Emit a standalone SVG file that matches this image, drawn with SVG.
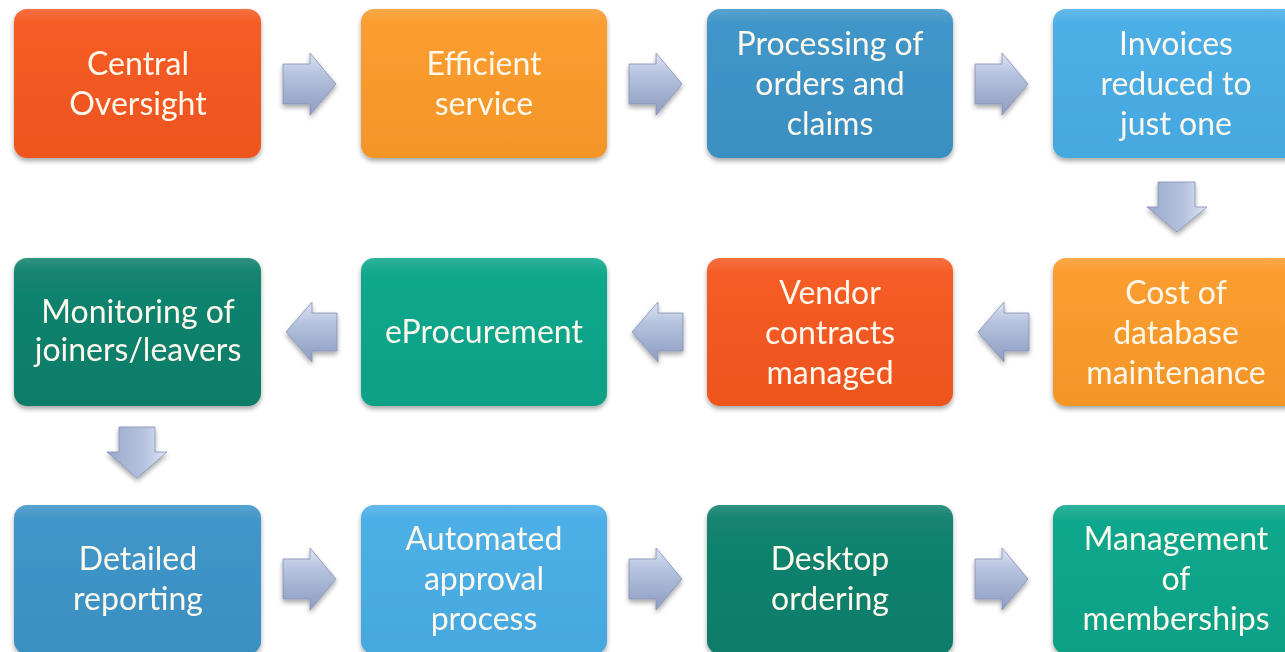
<svg xmlns="http://www.w3.org/2000/svg" width="1285" height="652" viewBox="0 0 1285 652">
<defs>
<filter id="sh" x="-10%" y="-10%" width="120%" height="130%">
<feGaussianBlur in="SourceAlpha" stdDeviation="2.5"/>
<feOffset dx="0" dy="3" result="b"/>
<feComponentTransfer><feFuncA type="linear" slope="0.35"/></feComponentTransfer>
<feMerge><feMergeNode/><feMergeNode in="SourceGraphic"/></feMerge>
</filter>
<linearGradient id="gloss" x1="0" y1="0" x2="0" y2="1">
<stop offset="0" stop-color="#fff" stop-opacity="0.15"/>
<stop offset="0.1" stop-color="#fff" stop-opacity="0.03"/>
<stop offset="1" stop-color="#000" stop-opacity="0.03"/>
</linearGradient>
<linearGradient id="arH" x1="0" y1="0" x2="0" y2="1">
<stop offset="0" stop-color="#DDE4F2"/>
<stop offset="0.35" stop-color="#B5C2DE"/>
<stop offset="1" stop-color="#8D9DC2"/>
</linearGradient>
<linearGradient id="arV" x1="0" y1="0" x2="1" y2="0">
<stop offset="0" stop-color="#9AA9CB"/>
<stop offset="0.6" stop-color="#B5C2DE"/>
<stop offset="1" stop-color="#DDE4F2"/>
</linearGradient>
<style>
.box{filter:url(#sh)}
.lbl{font-family:Lato,"Open Sans","Liberation Sans",sans-serif;font-size:32px;fill:#FFF8EC;text-anchor:middle}
.red{fill:#F5571F}.org{fill:#FB9A29}.blu{fill:#3B93C7}.lbl2{fill:#47ADE6}.dtl{fill:#0B806B}.tel{fill:#0AA58A}
.arr{stroke:#8391B5;stroke-width:0.8;filter:url(#sh)}
</style>
</defs>
<rect width="1285" height="652" fill="#fff"/>
<g id="connectors">
<path class="arr" fill="url(#arH)" d="M283,64 H310 V53 L336,84 L310,115 V104 H283 Z"/>
<path class="arr" fill="url(#arH)" d="M629,64 H656 V53 L682,84 L656,115 V104 H629 Z"/>
<path class="arr" fill="url(#arH)" d="M975,64 H1002 V53 L1028,84 L1002,115 V104 H975 Z"/>
<path class="arr" fill="url(#arV)" d="M1158,182 H1195 V207 H1207 L1177,232 L1147,207 H1158 Z"/>
<path class="arr" fill="url(#arH)" d="M1029,313 H1004 V302 L978,332 L1004,362 V351 H1029 Z"/>
<path class="arr" fill="url(#arH)" d="M683,313 H658 V302 L632,332 L658,362 V351 H683 Z"/>
<path class="arr" fill="url(#arH)" d="M337,313 H312 V302 L286,332 L312,362 V351 H337 Z"/>
<path class="arr" fill="url(#arV)" d="M119,427 H155 V452 H167 L137,478 L107,452 H119 Z"/>
<path class="arr" fill="url(#arH)" d="M283,559 H310 V548 L336,579 L310,610 V599 H283 Z"/>
<path class="arr" fill="url(#arH)" d="M629,559 H656 V548 L682,579 L656,610 V599 H629 Z"/>
<path class="arr" fill="url(#arH)" d="M975,559 H1002 V548 L1028,579 L1002,610 V599 H975 Z"/>
</g>
<g id="n1" class="box"><rect class="red" x="14" y="9" width="247" height="149" rx="13"/><rect fill="url(#gloss)" x="14" y="9" width="247" height="149" rx="13"/><text class="lbl" x="138" y="75">Central</text><text class="lbl" x="138" y="115">Oversight</text></g>
<g id="n2" class="box"><rect class="org" x="361" y="9" width="246" height="149" rx="13"/><rect fill="url(#gloss)" x="361" y="9" width="246" height="149" rx="13"/><text class="lbl" x="484" y="75">Efficient</text><text class="lbl" x="484" y="115">service</text></g>
<g id="n3" class="box"><rect class="blu" x="707" y="9" width="246" height="149" rx="13"/><rect fill="url(#gloss)" x="707" y="9" width="246" height="149" rx="13"/><text class="lbl" x="830" y="55">Processing of</text><text class="lbl" x="830" y="95">orders and</text><text class="lbl" x="830" y="135">claims</text></g>
<g id="n4" class="box"><rect class="lbl2" x="1053" y="9" width="247" height="149" rx="13"/><rect fill="url(#gloss)" x="1053" y="9" width="247" height="149" rx="13"/><text class="lbl" x="1176" y="55">Invoices</text><text class="lbl" x="1176" y="95">reduced to</text><text class="lbl" x="1176" y="135">just one</text></g>
<g id="n5" class="box"><rect class="org" x="1053" y="258" width="247" height="148" rx="13"/><rect fill="url(#gloss)" x="1053" y="258" width="247" height="148" rx="13"/><text class="lbl" x="1176" y="304">Cost of</text><text class="lbl" x="1176" y="344">database</text><text class="lbl" x="1176" y="384">maintenance</text></g>
<g id="n6" class="box"><rect class="red" x="707" y="258" width="246" height="148" rx="13"/><rect fill="url(#gloss)" x="707" y="258" width="246" height="148" rx="13"/><text class="lbl" x="830" y="304">Vendor</text><text class="lbl" x="830" y="344">contracts</text><text class="lbl" x="830" y="384">managed</text></g>
<g id="n7" class="box"><rect class="tel" x="361" y="258" width="246" height="148" rx="13"/><rect fill="url(#gloss)" x="361" y="258" width="246" height="148" rx="13"/><text class="lbl" x="484" y="343">eProcurement</text></g>
<g id="n8" class="box"><rect class="dtl" x="14" y="258" width="247" height="148" rx="13"/><rect fill="url(#gloss)" x="14" y="258" width="247" height="148" rx="13"/><text class="lbl" x="138" y="323">Monitoring of</text><text class="lbl" x="138" y="361">joiners/leavers</text></g>
<g id="n9" class="box"><rect class="blu" x="14" y="505" width="247" height="149" rx="13"/><rect fill="url(#gloss)" x="14" y="505" width="247" height="149" rx="13"/><text class="lbl" x="138" y="570">Detailed</text><text class="lbl" x="138" y="610">reporting</text></g>
<g id="n10" class="box"><rect class="lbl2" x="361" y="505" width="246" height="149" rx="13"/><rect fill="url(#gloss)" x="361" y="505" width="246" height="149" rx="13"/><text class="lbl" x="484" y="550">Automated</text><text class="lbl" x="484" y="590">approval</text><text class="lbl" x="484" y="630">process</text></g>
<g id="n11" class="box"><rect class="dtl" x="707" y="505" width="246" height="149" rx="13"/><rect fill="url(#gloss)" x="707" y="505" width="246" height="149" rx="13"/><text class="lbl" x="830" y="570">Desktop</text><text class="lbl" x="830" y="610">ordering</text></g>
<g id="n12" class="box"><rect class="tel" x="1053" y="505" width="247" height="149" rx="13"/><rect fill="url(#gloss)" x="1053" y="505" width="247" height="149" rx="13"/><text class="lbl" x="1176" y="550">Management</text><text class="lbl" x="1176" y="590">of</text><text class="lbl" x="1176" y="630">memberships</text></g>
</svg>
